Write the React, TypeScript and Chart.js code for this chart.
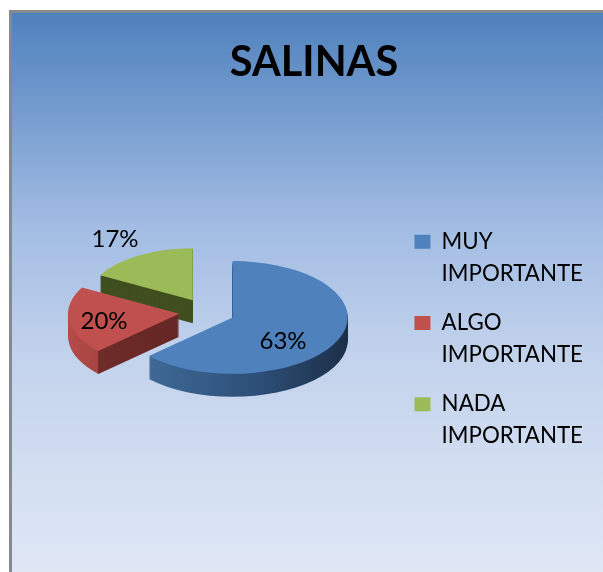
import React, { useEffect, useRef } from "react";
import { Chart, registerables } from "chart.js";

Chart.register(...registerables);

const titleText = "SALINAS";
const categories = [["MUY", "IMPORTANTE"], ["ALGO", "IMPORTANTE"], ["NADA", "IMPORTANTE"]];
const values = [63, 20, 17];
const sliceColors = ["#4f81bd", "#c0504d", "#9bbb59"];

const FONT = "Lato, 'Open Sans', sans-serif";
const PIE_CX = 207;
const PIE_CY = 312;
const PIE_R = 115;
const SQUASH = 0.49;
const DEPTH = 23;
const EXPLODE = 28;
const perspective = [1, 0.965, 0.92];
const valueLabelPos = [[283, 341], [104, 321], [115, 239]];

const backdrop = {
  id: "backdrop",
  beforeDraw(chart: any) {
    const { ctx, width, height } = chart;
    ctx.save();
    ctx.fillStyle = "#ffffff";
    ctx.fillRect(0, 0, width, height);
    ctx.fillStyle = "#858a90";
    ctx.fillRect(9, 10, width - 9, height - 10);
    const g = ctx.createLinearGradient(0, 13, 0, height);
    g.addColorStop(0, "#4f81bd");
    g.addColorStop(0.38, "#a2bce3");
    g.addColorStop(0.62, "#c3d3ec");
    g.addColorStop(1, "#dfe7f5");
    ctx.fillStyle = g;
    ctx.fillRect(12, 13, width - 12, height - 13);
    ctx.restore();
  },
};

function wallFill(ctx: any, i: number) {
  if (i === 0) {
    const g = ctx.createLinearGradient(-PIE_R, 0, PIE_R, 0);
    g.addColorStop(0, "#44709f");
    g.addColorStop(0.6, "#2d4f78");
    g.addColorStop(1, "#1c2f48");
    return g;
  }
  if (i === 1) {
    const g = ctx.createLinearGradient(-PIE_R, 0, 0, 0);
    g.addColorStop(0, "#b64c49");
    g.addColorStop(0.27, "#a54442");
    g.addColorStop(0.27, "#6e2b29");
    g.addColorStop(1, "#642624");
    return g;
  }
  return "#414f20";
}

const pie3d = {
  id: "pie3d",
  beforeDatasetsDraw(chart: any) {
    const { ctx } = chart;
    const arcs = chart.getDatasetMeta(0).data;
    [2, 1, 0].forEach((i) => {
      const el = arcs[i];
      const mid = (el.startAngle + el.endAngle) / 2;
      const top = el.options.backgroundColor;
      const place = (shift: number, fill: any) => {
        ctx.save();
        ctx.translate(PIE_CX, PIE_CY + shift);
        ctx.scale(1, SQUASH);
        ctx.translate(Math.cos(mid) * EXPLODE, Math.sin(mid) * EXPLODE);
        ctx.scale(perspective[i], perspective[i]);
        if (typeof fill !== "string") {
          // gradients are built in slice-local space, with the vertex at 0,0
          ctx.fillStyle = fill;
          ctx.beginPath();
          ctx.moveTo(0, 0);
          ctx.arc(0, 0, el.outerRadius, el.startAngle, el.endAngle);
          ctx.closePath();
          ctx.fill();
        } else {
          ctx.translate(-el.x, -el.y);
          el.options.backgroundColor = fill;
          el.draw(ctx);
        }
        ctx.restore();
      };
      const wall = wallFill(ctx, i);
      for (let d = DEPTH; d >= 1; d--) place(d, wall);
      place(0, top);
      el.options.backgroundColor = top;
    });
    ctx.save();
    ctx.fillStyle = "#000";
    ctx.font = `24px ${FONT}`;
    ctx.textAlign = "center";
    ctx.textBaseline = "middle";
    values.forEach((v, i) => {
      ctx.fillText(`${v}%`, valueLabelPos[i][0], valueLabelPos[i][1]);
    });
    ctx.restore();
    return false;
  },
};

export default function App() {
  const ref = useRef<HTMLCanvasElement>(null);
  useEffect(() => {
    const chart = new Chart(ref.current as HTMLCanvasElement, {
      type: "pie",
      data: {
        labels: categories as any,
        datasets: [{ data: values, backgroundColor: sliceColors, borderWidth: 0 }],
      },
      options: {
        animation: false,
        responsive: false,
        radius: PIE_R,
        layout: { padding: { left: 35, right: 10, top: 38, bottom: 0 } },
        plugins: {
          title: {
            display: true,
            text: titleText,
            color: "#000",
            font: { family: FONT, size: 41.5, weight: "bold" },
            padding: { top: 0, bottom: 28 },
          },
          legend: {
            position: "right",
            fullSize: false,
            labels: {
              boxWidth: 16,
              boxHeight: 14,
              padding: 17,
              color: "#000",
              font: { family: FONT, size: 22.3, lineHeight: 1.44 },
            },
          },
          tooltip: { enabled: false },
        },
      } as any,
      plugins: [backdrop, pie3d],
    });
    return () => chart.destroy();
  }, []);
  return (
    <div style={{ position: "absolute", left: 0, top: 0, width: 603, height: 572 }}>
      <canvas ref={ref} width={603} height={572} style={{ display: "block" }} />
    </div>
  );
}
